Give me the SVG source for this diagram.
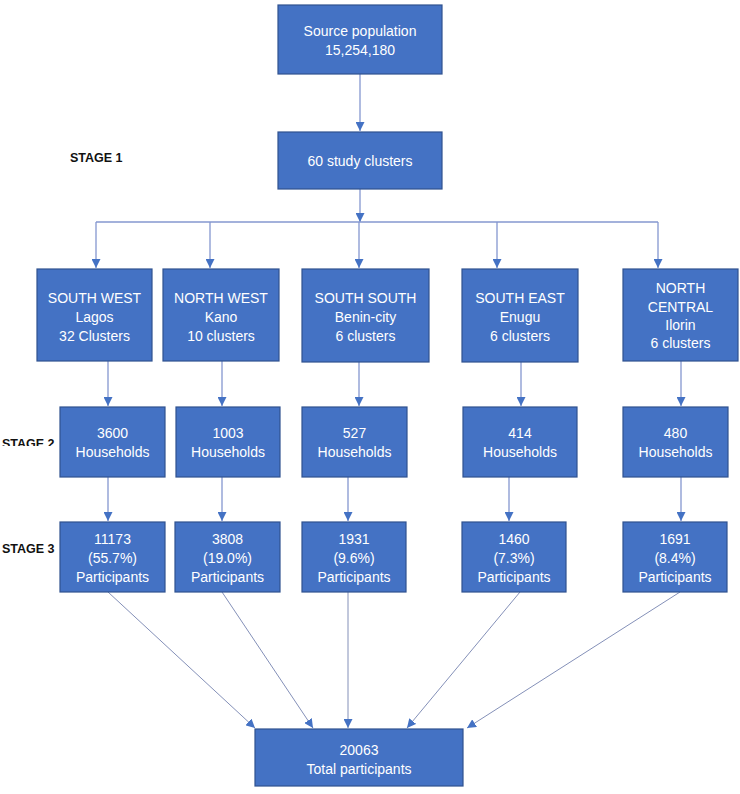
<svg xmlns="http://www.w3.org/2000/svg" width="740" height="794" viewBox="0 0 740 794">
<style>
.box{fill:#4472C4;stroke:#2F528F;stroke-width:1.2}
.t{font-family:"Liberation Sans",Arial,sans-serif;font-size:14px;fill:#ffffff;text-anchor:middle}
.stage{font-family:"Liberation Sans",Arial,sans-serif;font-size:12.5px;font-weight:bold;fill:#111111}
.ln{fill:none;stroke:#8497CF;stroke-width:1.3}
.dg{fill:none;stroke:#8490B8;stroke-width:1}
</style>
<defs>
<marker id="ah" markerUnits="userSpaceOnUse" markerWidth="10" markerHeight="9" refX="9" refY="4.5" orient="auto">
<path d="M0,0 L9,4.5 L0,9 Z" fill="#4472C4"/>
</marker>
<clipPath id="clip2"><rect x="0" y="430" width="80" height="16"/></clipPath>
</defs>
<rect width="740" height="794" fill="#ffffff"/>

<g id="labels">
<text class="stage" x="70" y="162">STAGE 1</text>
<text class="stage" x="2" y="448" clip-path="url(#clip2)">STAGE 2</text>
<text class="stage" x="2" y="553">STAGE 3</text>
</g>

<g id="connectors">
<line class="ln" x1="360" y1="74" x2="360" y2="131" marker-end="url(#ah)"/>
<line class="ln" x1="360" y1="189" x2="360" y2="222" marker-end="url(#ah)"/>
<line class="ln" x1="96" y1="222" x2="658" y2="222"/>
<line class="ln" x1="96" y1="222" x2="96" y2="268" marker-end="url(#ah)"/>
<line class="ln" x1="210" y1="222" x2="210" y2="268" marker-end="url(#ah)"/>
<line class="ln" x1="359" y1="222" x2="359" y2="268" marker-end="url(#ah)"/>
<line class="ln" x1="497" y1="222" x2="497" y2="268" marker-end="url(#ah)"/>
<line class="ln" x1="658" y1="222" x2="658" y2="268" marker-end="url(#ah)"/>

<line class="ln" x1="108" y1="361" x2="108" y2="406" marker-end="url(#ah)"/>
<line class="ln" x1="222" y1="361" x2="222" y2="406" marker-end="url(#ah)"/>
<line class="ln" x1="359" y1="362" x2="359" y2="406" marker-end="url(#ah)"/>
<line class="ln" x1="521" y1="362" x2="521" y2="406" marker-end="url(#ah)"/>
<line class="ln" x1="681" y1="361" x2="681" y2="406" marker-end="url(#ah)"/>

<line class="ln" x1="108" y1="477" x2="108" y2="521" marker-end="url(#ah)"/>
<line class="ln" x1="222" y1="477" x2="222" y2="521" marker-end="url(#ah)"/>
<line class="ln" x1="348" y1="477" x2="348" y2="521" marker-end="url(#ah)"/>
<line class="ln" x1="509" y1="477" x2="509" y2="521" marker-end="url(#ah)"/>
<line class="ln" x1="681" y1="477" x2="681" y2="521" marker-end="url(#ah)"/>

<line class="dg" x1="108" y1="592" x2="255" y2="728" marker-end="url(#ah)"/>
<line class="dg" x1="222" y1="592" x2="313" y2="728" marker-end="url(#ah)"/>
<line class="dg" x1="348" y1="592" x2="348" y2="728" marker-end="url(#ah)"/>
<line class="dg" x1="520" y1="592" x2="407" y2="728" marker-end="url(#ah)"/>
<line class="dg" x1="680" y1="592" x2="467" y2="728" marker-end="url(#ah)"/>
</g>

<g id="source">
<rect class="box" x="278" y="5" width="164" height="69"/>
<text class="t" x="360" y="36">Source population</text>
<text class="t" x="360" y="55">15,254,180</text>
</g>
<g id="clusters">
<rect class="box" x="278" y="132" width="164" height="57"/>
<text class="t" x="360" y="166">60 study clusters</text>
</g>

<g id="southwest">
<rect class="box" x="37" y="269" width="115" height="92"/>
<text class="t" x="94.5" y="303">SOUTH WEST</text>
<text class="t" x="94.5" y="322">Lagos</text>
<text class="t" x="94.5" y="341">32 Clusters</text>
</g>
<g id="northwest">
<rect class="box" x="163" y="269" width="116" height="92"/>
<text class="t" x="221" y="303">NORTH WEST</text>
<text class="t" x="221" y="322">Kano</text>
<text class="t" x="221" y="341">10 clusters</text>
</g>
<g id="southsouth">
<rect class="box" x="302" y="269" width="127" height="93"/>
<text class="t" x="365.5" y="303">SOUTH SOUTH</text>
<text class="t" x="365.5" y="322">Benin-city</text>
<text class="t" x="365.5" y="341">6 clusters</text>
</g>
<g id="southeast">
<rect class="box" x="462" y="269" width="116" height="93"/>
<text class="t" x="520" y="303">SOUTH EAST</text>
<text class="t" x="520" y="322">Enugu</text>
<text class="t" x="520" y="341">6 clusters</text>
</g>
<g id="northcentral">
<rect class="box" x="623" y="269" width="115" height="92"/>
<text class="t" x="680.5" y="293">NORTH</text>
<text class="t" x="680.5" y="312">CENTRAL</text>
<text class="t" x="680.5" y="330">Ilorin</text>
<text class="t" x="680.5" y="348">6 clusters</text>
</g>

<g id="hh-sw">
<rect class="box" x="60" y="407" width="105" height="70"/>
<text class="t" x="112.5" y="438">3600</text>
<text class="t" x="112.5" y="457">Households</text>
</g>
<g id="hh-nw">
<rect class="box" x="176" y="407" width="104" height="70"/>
<text class="t" x="228" y="438">1003</text>
<text class="t" x="228" y="457">Households</text>
</g>
<g id="hh-ss">
<rect class="box" x="302" y="407" width="105" height="70"/>
<text class="t" x="354.5" y="438">527</text>
<text class="t" x="354.5" y="457">Households</text>
</g>
<g id="hh-se">
<rect class="box" x="463" y="407" width="114" height="70"/>
<text class="t" x="520" y="438">414</text>
<text class="t" x="520" y="457">Households</text>
</g>
<g id="hh-nc">
<rect class="box" x="623" y="407" width="105" height="70"/>
<text class="t" x="675.5" y="438">480</text>
<text class="t" x="675.5" y="457">Households</text>
</g>

<g id="p-sw">
<rect class="box" x="60" y="522" width="105" height="70"/>
<text class="t" x="112.5" y="544">11173</text>
<text class="t" x="112.5" y="563">(55.7%)</text>
<text class="t" x="112.5" y="582">Participants</text>
</g>
<g id="p-nw">
<rect class="box" x="175" y="522" width="105" height="70"/>
<text class="t" x="227.5" y="544">3808</text>
<text class="t" x="227.5" y="563">(19.0%)</text>
<text class="t" x="227.5" y="582">Participants</text>
</g>
<g id="p-ss">
<rect class="box" x="302" y="522" width="104" height="70"/>
<text class="t" x="354" y="544">1931</text>
<text class="t" x="354" y="563">(9.6%)</text>
<text class="t" x="354" y="582">Participants</text>
</g>
<g id="p-se">
<rect class="box" x="462" y="522" width="104" height="70"/>
<text class="t" x="514" y="544">1460</text>
<text class="t" x="514" y="563">(7.3%)</text>
<text class="t" x="514" y="582">Participants</text>
</g>
<g id="p-nc">
<rect class="box" x="623" y="522" width="104" height="70"/>
<text class="t" x="675" y="544">1691</text>
<text class="t" x="675" y="563">(8.4%)</text>
<text class="t" x="675" y="582">Participants</text>
</g>

<g id="total">
<rect class="box" x="255" y="729" width="208" height="57"/>
<text class="t" x="359" y="755">20063</text>
<text class="t" x="359" y="774">Total participants</text>
</g>
</svg>
